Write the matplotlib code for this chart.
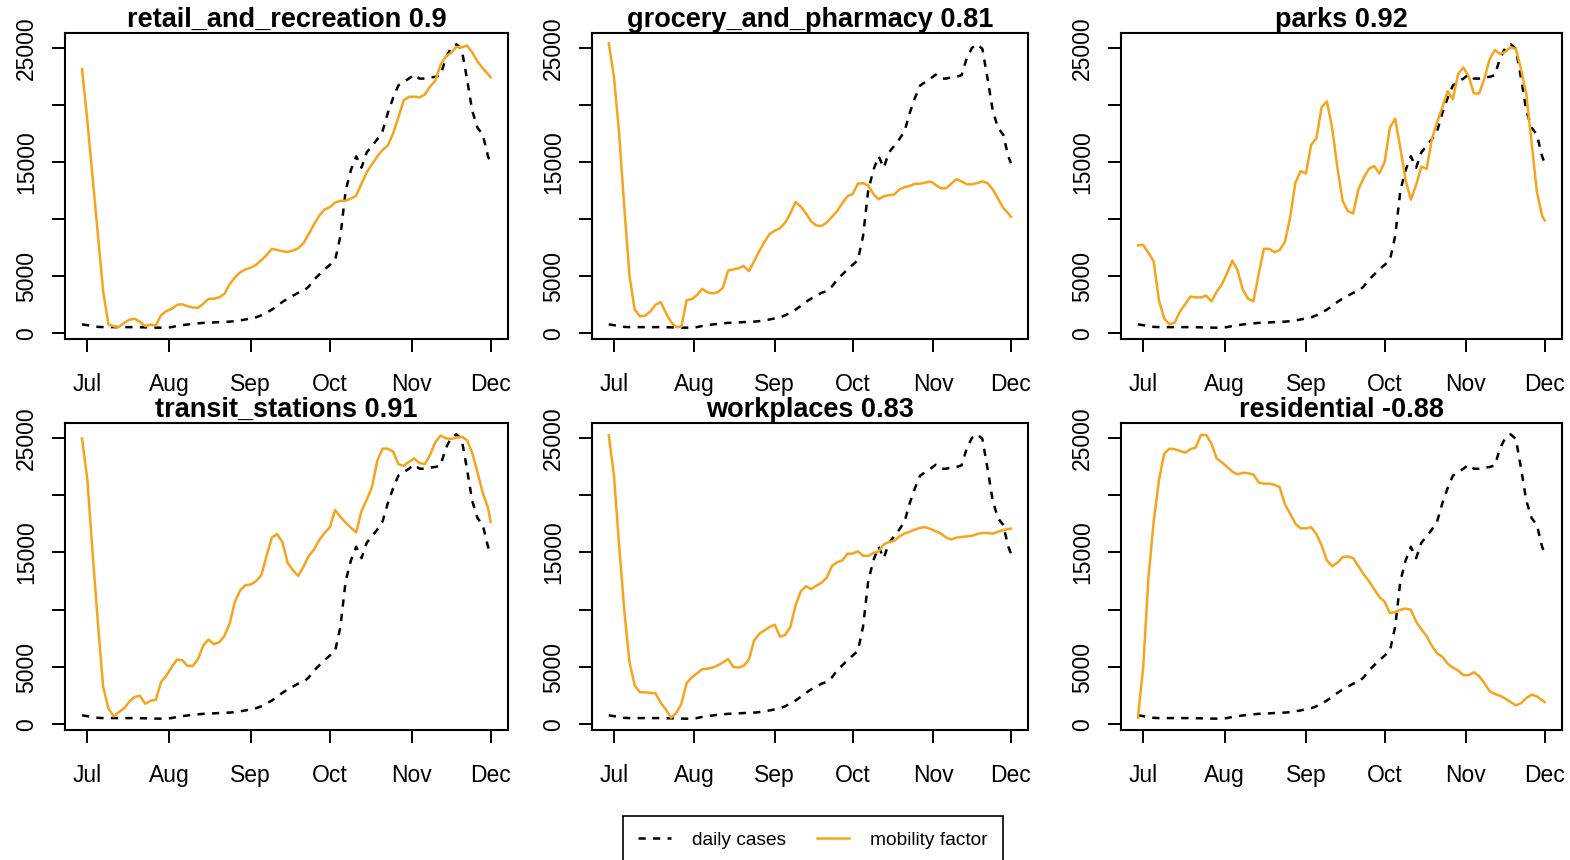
import pandas as pd
import matplotlib
matplotlib.use('Agg')
import matplotlib.pyplot as plt
from matplotlib.lines import Line2D

plt.rcParams['font.family'] = ['Liberation Sans', 'DejaVu Sans']

# every other day from Jun 29, plus the last day
dates = pd.date_range('2020-06-29', periods=78, freq='2D').append(pd.DatetimeIndex(['2020-12-01']))

daily_cases = [790, 720, 640, 570, 550, 550, 550, 550, 550, 550,
               550, 540, 530, 515, 505, 500, 500, 550, 650, 720,
               780, 830, 880, 920, 940, 960, 990, 1010, 1030, 1070,
               1140, 1220, 1310, 1410, 1580, 1820, 2080, 2400, 2750, 3050,
               3300, 3550, 3700, 4100, 4700, 5150, 5600, 6000, 6400, 8500,
               12500, 14300, 15500, 14500, 15850, 16400, 17000, 17700, 19300, 20600,
               21700, 22000, 22300, 22650, 22300, 22300, 22400, 22450, 22600, 24100,
               25000, 25300, 24900, 22300, 19500, 18000, 17400, 15500, 14900]

# mobility indices rescaled to the range of daily cases
retail_and_recreation = [23130, 18650, 13670, 8700, 3720, 800, 620, 560, 930, 1200,
                         1280, 1000, 650, 760, 700, 1600, 1950, 2150, 2500, 2550,
                         2380, 2270, 2240, 2600, 3030, 3030, 3150, 3450, 4300, 4900,
                         5350, 5600, 5750, 6000, 6400, 6850, 7400, 7300, 7200, 7120,
                         7250, 7450, 7900, 8700, 9550, 10300, 10850, 11040, 11450, 11600,
                         11620, 11800, 12050, 13100, 14100, 14800, 15500, 16050, 16450, 17500,
                         18900, 20400, 20700, 20720, 20650, 20900, 21600, 22100, 23500, 24250,
                         24550, 25080, 25030, 25200, 24600, 23800, 23200, 22700, 22410]

grocery_and_pharmacy = [25400, 22460, 17500, 11000, 5000, 2100, 1500, 1550, 1900, 2500,
                        2750, 1800, 1000, 550, 600, 2900, 3000, 3350, 3900, 3600,
                        3500, 3600, 4000, 5500, 5600, 5700, 5900, 5450, 6300, 7200,
                        8000, 8700, 9000, 9200, 9700, 10500, 11500, 11100, 10500, 9800,
                        9450, 9400, 9700, 10200, 10700, 11400, 12000, 12200, 13100, 13150,
                        12950, 12200, 11740, 12000, 12100, 12150, 12600, 12800, 12900, 13100,
                        13100, 13200, 13300, 13000, 12700, 12700, 13100, 13500, 13300, 13050,
                        13050, 13150, 13300, 13150, 12600, 11800, 11000, 10500, 10200]

parks = [7700, 7750, 7050, 6300, 2900, 1300, 800, 950, 1900, 2550,
         3220, 3150, 3150, 3300, 2800, 3650, 4300, 5300, 6380, 5500,
         3800, 3030, 2800, 5200, 7400, 7400, 7100, 7300, 8000, 10170,
         13200, 14200, 14000, 16500, 17100, 19800, 20300, 18000, 14500, 11600,
         10700, 10500, 12600, 13600, 14400, 14650, 14000, 15000, 18000, 18800,
         16200, 13400, 11700, 13000, 14600, 14400, 17000, 18500, 19800, 21200,
         20500, 22700, 23280, 22500, 21000, 21000, 22300, 24000, 24800, 24450,
         24650, 25050, 24900, 23100, 20900, 16700, 12400, 10300, 9880]

transit_stations = [24940, 21400, 15000, 8900, 3300, 1400, 700, 1070, 1400, 2000,
                    2400, 2480, 1800, 2050, 2150, 3700, 4250, 5000, 5650, 5600,
                    5100, 5100, 5700, 6900, 7400, 7000, 7150, 7700, 8800, 10700,
                    11700, 12150, 12200, 12500, 13000, 14700, 16300, 16600, 15900, 14100,
                    13450, 12950, 13750, 14700, 15250, 16100, 16700, 17200, 18700, 18100,
                    17600, 17150, 16750, 18600, 19600, 20700, 23000, 24050, 24050, 23800,
                    22700, 22550, 22900, 23190, 22800, 22700, 23500, 24600, 25200, 24950,
                    24900, 25000, 25090, 24800, 23700, 22000, 20200, 18900, 17650]

workplaces = [25230, 21700, 15600, 9900, 5400, 3400, 2800, 2800, 2750, 2710,
              1900, 1300, 580, 980, 1800, 3600, 4100, 4450, 4810, 4850,
              4950, 5150, 5400, 5700, 5000, 4960, 5100, 5650, 7300, 7900,
              8200, 8500, 8700, 7650, 7800, 8500, 10400, 11600, 12050, 11800,
              12100, 12350, 12800, 13800, 14150, 14300, 14880, 14900, 15100, 14700,
              14700, 14950, 15080, 15700, 15920, 16000, 16400, 16650, 16800, 17000,
              17150, 17200, 17050, 16850, 16650, 16300, 16130, 16300, 16350, 16400,
              16450, 16600, 16700, 16700, 16630, 16800, 16950, 17050, 17070]

residential = [580, 5000, 12800, 17700, 21300, 23600, 24050, 24000, 23850, 23700,
               24000, 24150, 25250, 25250, 24500, 23200, 22850, 22450, 22050, 21800,
               21950, 21900, 21800, 21100, 21000, 21000, 20900, 20700, 19200, 18380,
               17500, 17100, 17100, 17200, 16600, 15610, 14300, 13800, 14100, 14600,
               14650, 14500, 13800, 13100, 12500, 11800, 11100, 10700, 9700, 9800,
               10000, 10100, 10000, 8950, 8300, 7700, 6850, 6200, 5900, 5300,
               4950, 4700, 4290, 4290, 4550, 4200, 3600, 2900, 2650, 2500,
               2250, 1950, 1660, 1850, 2300, 2600, 2450, 2100, 1950]

categories = ['retail_and_recreation', 'grocery_and_pharmacy', 'parks',
              'transit_stations', 'workplaces', 'residential']
mobility = [retail_and_recreation, grocery_and_pharmacy, parks,
            transit_stations, workplaces, residential]
correlations = [0.9, 0.81, 0.92, 0.91, 0.83, -0.88]

month_ticks = pd.to_datetime(['2020-07-01', '2020-08-01', '2020-09-01',
                              '2020-10-01', '2020-11-01', '2020-12-01'])
month_labels = ['Jul', 'Aug', 'Sep', 'Oct', 'Nov', 'Dec']
y_ticks = [0, 5000, 10000, 15000, 20000, 25000]
y_labels = ['0', '5000', '', '15000', '', '25000']

orange = '#F7A41D'
W, H = 1570, 860
fig = plt.figure(figsize=(W / 100, H / 100), dpi=100)

# panel boxes in pixels: left, width / top, height
col_left = [65, 592, 1121]
col_width = [443, 436, 441]
row_top = [33, 423]
row_height = [306, 307]

for i, name in enumerate(categories):
    r, c = divmod(i, 3)
    ax = fig.add_axes([col_left[c] / W, 1 - (row_top[r] + row_height[r]) / H,
                       col_width[c] / W, row_height[r] / H])
    ax.plot(dates, daily_cases, color='black', lw=1.8, dashes=(2.9, 2.9))
    ax.plot(dates, mobility[i], color=orange, lw=1.8)

    ax.set_xlim(pd.Timestamp('2020-06-22 13:00'), pd.Timestamp('2020-12-07 14:00'))
    ax.set_ylim(-490, 26290)
    ax.set_xticks(month_ticks)
    ax.set_xticklabels(month_labels)
    ax.set_yticks(y_ticks)
    ax.set_yticklabels(y_labels, rotation=90, va='center')
    ax.tick_params(direction='out', length=9.5, width=1.4, labelsize=16.5)
    ax.tick_params(axis='x', pad=15)
    ax.tick_params(axis='y', pad=10)
    for s in ax.spines.values():
        s.set_linewidth(1.5)
    ax.set_title(f'{name} {correlations[i]}', fontsize=19.5, fontweight='bold', pad=1.5)

handles = [Line2D([], [], color='black', lw=1.8, dashes=(2.9, 2.9)),
           Line2D([], [], color=orange, lw=1.8)]
leg = fig.legend(handles, ['daily cases', 'mobility factor'], ncol=2,
                 loc='upper left', bbox_to_anchor=(623 / W, 1 - 816 / H),
                 fontsize=13.8, handlelength=1.7, handletextpad=1.1,
                 columnspacing=1.6, borderpad=0.8, borderaxespad=0,
                 fancybox=False, framealpha=1)
leg.get_frame().set_edgecolor('black')
leg.get_frame().set_linewidth(1.2)

fig.savefig('out.png', dpi=100)
